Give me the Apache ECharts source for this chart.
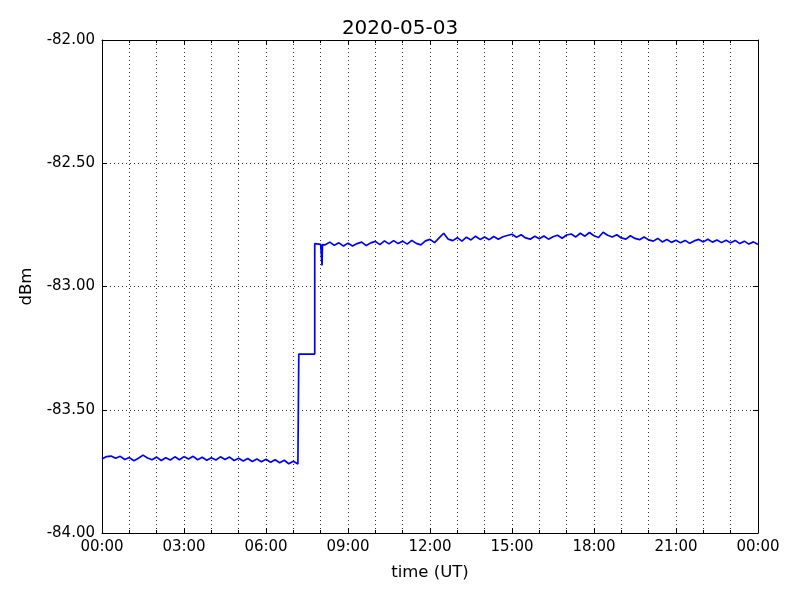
<!DOCTYPE html>
<html>
<head>
<meta charset="utf-8">
<script src="https://cdn.jsdelivr.net/npm/echarts@6/dist/echarts.min.js"></script>
<style>html,body{margin:0;padding:0;background:#fff}#c{width:800px;height:600px}</style>
</head>
<body>
<div id="c"></div>
<script>
// ---- data (time in minutes since 00:00 UT, power in dBm) ----
const titleText = '2020-05-03';
const xTickLabels = ['00:00','03:00','06:00','09:00','12:00','15:00','18:00','21:00','00:00'];
const yTickLabels = ['-84.00','-83.50','-83.00','-82.50','-82.00'];

const timesMin = [
  0,10,20,30,40,50,60,70,80,90,100,110,120,130,140,150,160,170,180,190,200,210,
  220,230,240,250,260,270,280,290,300,310,320,330,340,350,360,370,380,390,400,410,420,430,
  432,432,467,467,470,480,483,484,
  490,500,510,520,530,540,550,560,570,580,590,600,610,620,630,640,650,660,670,680,690,
  700,710,720,730,740,750,760,770,780,790,800,810,820,830,840,850,860,870,880,890,900,
  910,920,930,940,950,960,970,980,990,1000,1010,1020,1030,1040,1050,1060,1070,1080,
  1090,1100,1110,1120,1130,1140,1150,1160,1170,1180,1190,1200,1210,1220,1230,1240,1250,
  1260,1270,1280,1290,1300,1310,1320,1330,1340,1350,1360,1370,1380,1390,1400,1410,1420,1430,1440
];

const powerDbm = [
  -83.700,-83.690,-83.688,-83.697,-83.689,-83.702,-83.694,-83.707,-83.697,-83.684,-83.696,-83.703,
  -83.692,-83.706,-83.695,-83.704,-83.691,-83.703,-83.690,-83.700,-83.689,-83.703,-83.693,-83.705,
  -83.695,-83.704,-83.691,-83.702,-83.692,-83.706,-83.697,-83.708,-83.698,-83.710,-83.700,-83.711,
  -83.701,-83.713,-83.703,-83.715,-83.705,-83.719,-83.709,-83.720,
  -83.714,-83.274,-83.274,-82.826,-82.823,-82.829,-82.915,-82.830,
  -82.831,-82.820,-82.833,-82.823,-82.836,-82.824,-82.836,-82.826,-82.820,-82.834,-82.823,
  -82.817,-82.830,-82.815,-82.827,-82.814,-82.826,-82.816,-82.828,-82.813,-82.825,-82.831,
  -82.815,-82.809,-82.822,-82.803,-82.784,-82.808,-82.814,-82.802,-82.816,-82.800,-82.811,
  -82.796,-82.809,-82.799,-82.810,-82.797,-82.808,-82.798,-82.793,-82.788,-82.800,-82.790,
  -82.803,-82.808,-82.796,-82.806,-82.795,-82.808,-82.798,-82.792,-82.804,-82.791,-82.787,
  -82.799,-82.784,-82.796,-82.781,-82.794,-82.801,-82.780,-82.792,-82.799,-82.790,-82.803,
  -82.808,-82.794,-82.805,-82.810,-82.799,-82.811,-82.816,-82.805,-82.819,-82.809,-82.821,
  -82.812,-82.823,-82.813,-82.825,-82.815,-82.809,-82.819,-82.808,-82.820,-82.811,-82.822,
  -82.812,-82.823,-82.813,-82.826,-82.816,-82.828,-82.819,-82.830
];

const seriesData = timesMin.map((t, i) => [t / 60, powerDbm[i]]);

const FONT = 'DejaVu Sans';
const dotted = { color: '#000', width: 0.8, type: [1, 3] };
const tickStyle = { color: '#000', width: 1 };

const chart = echarts.init(document.getElementById('c'), null, { renderer: 'canvas' });
chart.setOption({
  animation: false,
  backgroundColor: '#fff',
  title: {
    text: titleText, left: 'center', top: 14,
    textStyle: { fontFamily: FONT, fontSize: 20, fontWeight: 'normal', color: '#000' }
  },
  grid: { left: 102, right: 42, top: 40, bottom: 67, show: false },
  xAxis: [{
    type: 'value', min: 0, max: 24, interval: 3, position: 'bottom',
    name: 'time (UT)', nameLocation: 'middle', nameGap: 31,
    nameTextStyle: { fontFamily: FONT, fontSize: 16.5, color: '#000' },
    axisLine: { show: true, onZero: false, lineStyle: tickStyle },
    axisTick: { show: true, inside: true, length: 5, lineStyle: tickStyle },
    minorTick: { show: true, splitNumber: 3, length: 3, lineStyle: tickStyle },
    splitLine: { show: true, lineStyle: dotted },
    minorSplitLine: { show: true, lineStyle: dotted },
    axisLabel: {
      fontFamily: FONT, fontSize: 15, color: '#000', margin: 7,
      formatter: v => xTickLabels[Math.round(v / 3)]
    }
  }, {
    type: 'value', min: 0, max: 24, interval: 3, position: 'top',
    axisLine: { show: true, onZero: false, lineStyle: tickStyle },
    axisTick: { show: true, inside: true, length: 5, lineStyle: tickStyle },
    minorTick: { show: true, splitNumber: 3, length: 3, lineStyle: tickStyle },
    splitLine: { show: false }, axisLabel: { show: false }
  }],
  yAxis: [{
    type: 'value', min: -84, max: -82, interval: 0.5, position: 'left',
    name: 'dBm', nameLocation: 'middle', nameGap: 67, nameRotate: 90,
    nameTextStyle: { fontFamily: FONT, fontSize: 16.5, color: '#000' },
    axisLine: { show: true, onZero: false, lineStyle: tickStyle },
    axisTick: { show: true, inside: true, length: 5, lineStyle: tickStyle },
    splitLine: { show: true, lineStyle: dotted },
    axisLabel: {
      fontFamily: FONT, fontSize: 15, color: '#000', margin: 7,
      formatter: v => yTickLabels[Math.round((v + 84) / 0.5)]
    }
  }, {
    type: 'value', min: -84, max: -82, interval: 0.5, position: 'right',
    axisLine: { show: true, onZero: false, lineStyle: tickStyle },
    axisTick: { show: true, inside: true, length: 5, lineStyle: tickStyle },
    splitLine: { show: false }, axisLabel: { show: false }
  }],
  series: [{
    type: 'line', xAxisIndex: 0, yAxisIndex: 0,
    data: seriesData, showSymbol: false, symbol: 'none',
    lineStyle: { color: '#0000ff', width: 1.7 },
    clip: true
  }]
});
</script>
</body>
</html>
